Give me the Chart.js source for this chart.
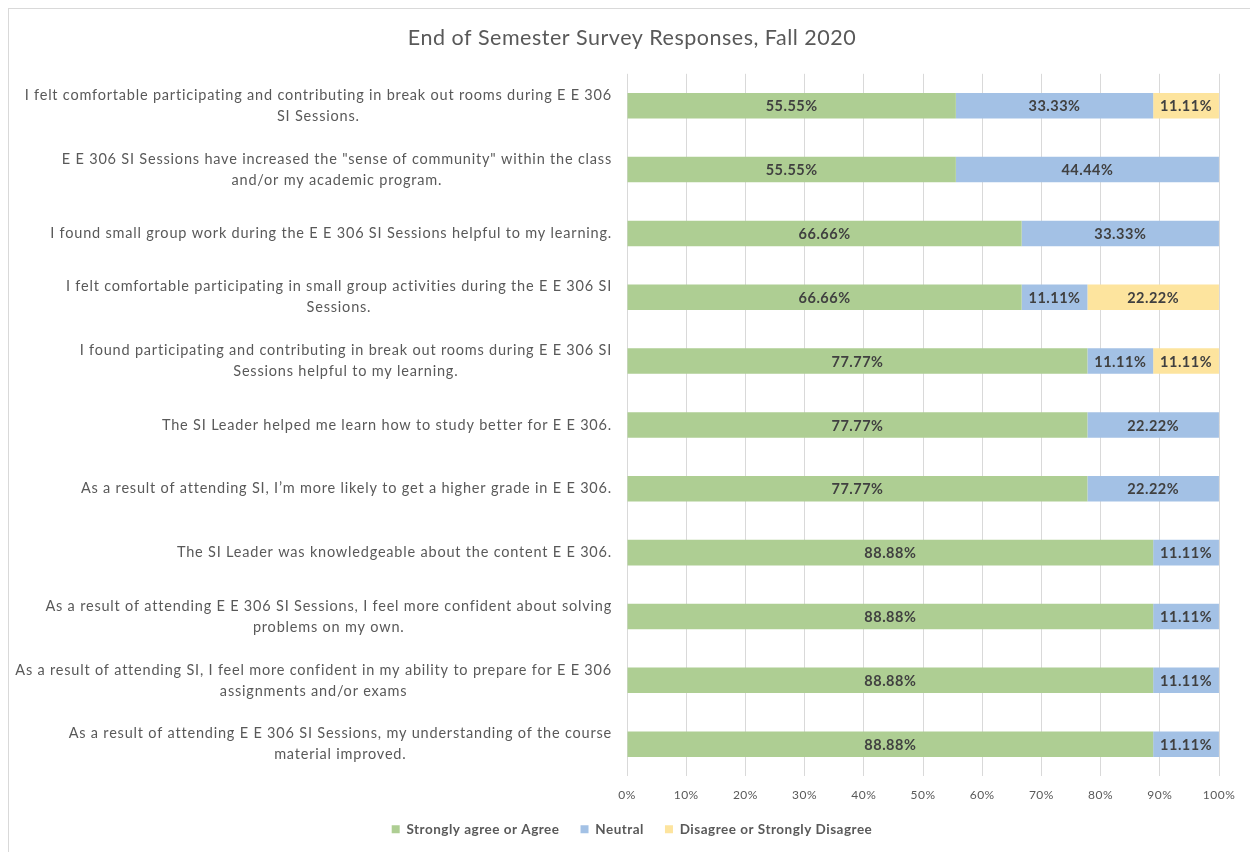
<!DOCTYPE html>
<html>
<head>
<meta charset="utf-8">
<script src="https://cdn.jsdelivr.net/npm/chart.js@4.4.1/dist/chart.umd.min.js"></script>
<style>
  html, body { margin: 0; padding: 0; background: #ffffff; }
  #wrap { position: relative; width: 1250px; height: 852px; }
</style>
</head>
<body>
<div id="wrap"><canvas id="c" width="1250" height="852"></canvas></div>
<script>
const title = "End of Semester Survey Responses, Fall 2020";

const categories = [
  ["I felt comfortable participating and contributing in break out rooms during E E 306", "SI Sessions."],
  ["E E 306 SI Sessions have increased the \"sense of community\" within the class", "and/or my academic program."],
  ["I found small group work during the E E 306 SI Sessions helpful to my learning."],
  ["I felt comfortable participating in small group activities during the E E 306 SI", "Sessions."],
  ["I found participating and contributing in break out rooms during E E 306 SI", "Sessions helpful to my learning."],
  ["The SI Leader helped me learn how to study better for E E 306."],
  ["As a result of attending SI, I\u2019m more likely to get a higher grade in E E 306."],
  ["The SI Leader was knowledgeable about the content E E 306."],
  ["As a result of attending E E 306 SI Sessions, I feel more confident about solving", "problems on my own."],
  ["As a result of attending SI, I feel more confident in my ability to prepare for E E 306", "assignments and/or exams"],
  ["As a result of attending E E 306 SI Sessions, my understanding of the course", "material improved."]
];

const seriesNames = ["Strongly agree or Agree", "Neutral", "Disagree or Strongly Disagree"];
const agree    = [55.55, 55.55, 66.66, 66.66, 77.77, 77.77, 77.77, 88.88, 88.88, 88.88, 88.88];
const neutral  = [33.33, 44.44, 33.33, 11.11, 11.11, 22.22, 22.22, 11.11, 11.11, 11.11, 11.11];
const disagree = [11.11, null,  null,  22.22, 11.11, null,  null,  null,  null,  null,  null];
const xTicks = [0, 10, 20, 30, 40, 50, 60, 70, 80, 90, 100];

const seriesColors = ["#AECE93", "#A3C1E5", "#FDE49E"];
const FONT = "Lato, 'Open Sans', sans-serif";

const spacingPlugin = {
  id: 'spacing',
  beforeUpdate(chart) { chart.ctx.letterSpacing = '0.5px'; },
  beforeDraw(chart) { chart.ctx.letterSpacing = '0.5px'; }
};

const legendShiftPlugin = {
  id: 'legendShift',
  afterLayout(chart) {
    const lg = chart.legend;
    if (lg) { lg.top -= 13; lg.bottom -= 13; }
  }
};

const framePlugin = {
  id: 'frame',
  beforeDraw(chart) {
    const ctx = chart.ctx;
    ctx.save();
    ctx.fillStyle = '#ffffff';
    ctx.fillRect(0, 0, chart.width, chart.height);
    ctx.strokeStyle = '#d9d9d9';
    ctx.lineWidth = 1;
    ctx.strokeRect(8.5, 8.5, chart.width + 10, chart.height + 10);
    ctx.restore();
  }
};

const yLabelPlugin = {
  id: 'yLabels',
  afterDraw(chart) {
    const ctx = chart.ctx;
    const y = chart.scales.y;
    const right = chart.chartArea.left - 15;
    const lh = 21;
    ctx.save();
    ctx.letterSpacing = '0.8px';
    ctx.font = "14.5px " + FONT;
    ctx.fillStyle = '#595959';
    ctx.textAlign = 'center';
    ctx.textBaseline = 'middle';
    categories.forEach((lines, i) => {
      const cy = y.getPixelForTick(i);
      const w = Math.max(...lines.map(l => ctx.measureText(l).width));
      const cx = right - w / 2;
      const y0 = cy - (lines.length - 1) * lh / 2;
      lines.forEach((l, k) => ctx.fillText(l, cx, y0 + k * lh));
    });
    ctx.restore();
  }
};

const valueLabelPlugin = {
  id: 'valueLabels',
  afterDatasetsDraw(chart) {
    const ctx = chart.ctx;
    ctx.save();
    ctx.letterSpacing = '0.5px';
    ctx.font = "bold 14.5px " + FONT;
    ctx.fillStyle = '#404040';
    ctx.textAlign = 'center';
    ctx.textBaseline = 'middle';
    chart.data.datasets.forEach((ds, di) => {
      const meta = chart.getDatasetMeta(di);
      meta.data.forEach((el, i) => {
        const v = ds.data[i];
        if (v === null || v === undefined) return;
        const p = el.getProps(['x', 'y', 'base'], true);
        ctx.fillText(v.toFixed(2) + '%', (p.x + p.base) / 2, p.y + 1);
      });
    });
    ctx.restore();
  }
};

new Chart(document.getElementById('c'), {
  type: 'bar',
  data: {
    labels: categories,
    datasets: [
      { label: seriesNames[0], data: agree, backgroundColor: seriesColors[0] },
      { label: seriesNames[1], data: neutral, backgroundColor: seriesColors[1] },
      { label: seriesNames[2], data: disagree, backgroundColor: seriesColors[2] }
    ]
  },
  options: {
    indexAxis: 'y',
    responsive: false,
    animation: false,
    events: [],
    categoryPercentage: 0.4,
    barPercentage: 1.0,
    layout: { padding: { left: 45, right: 31, top: 25, bottom: -7 } },
    scales: {
      x: {
        stacked: true,
        min: 0, max: 100,
        afterBuildTicks(scale) { scale.ticks = xTicks.map(v => ({ value: v })); },
        ticks: {
          callback: v => v + '%',
          color: '#595959',
          font: { family: FONT, size: 12 },
          padding: 12,
          maxRotation: 0
        },
        grid: { color: '#d9d9d9', drawTicks: false, lineWidth: 1 },
        border: { display: false }
      },
      y: {
        stacked: true,
        ticks: { display: false },
        grid: { display: false },
        border: { display: false },
        afterFit(scale) { scale.width = 582; }
      }
    },
    plugins: {
      title: {
        display: true,
        text: title,
        color: '#595959',
        font: { family: FONT, size: 21.5, weight: 'normal' },
        padding: { top: 0, bottom: 23 }
      },
      legend: {
        position: 'bottom',
        labels: {
          color: '#595959',
          font: { family: FONT, size: 13.5, weight: 'bold' },
          boxWidth: 8,
          boxHeight: 8,
          padding: 21
        }
      },
      tooltip: { enabled: false }
    }
  },
  plugins: [spacingPlugin, legendShiftPlugin, framePlugin, yLabelPlugin, valueLabelPlugin]
});
</script>
</body>
</html>
